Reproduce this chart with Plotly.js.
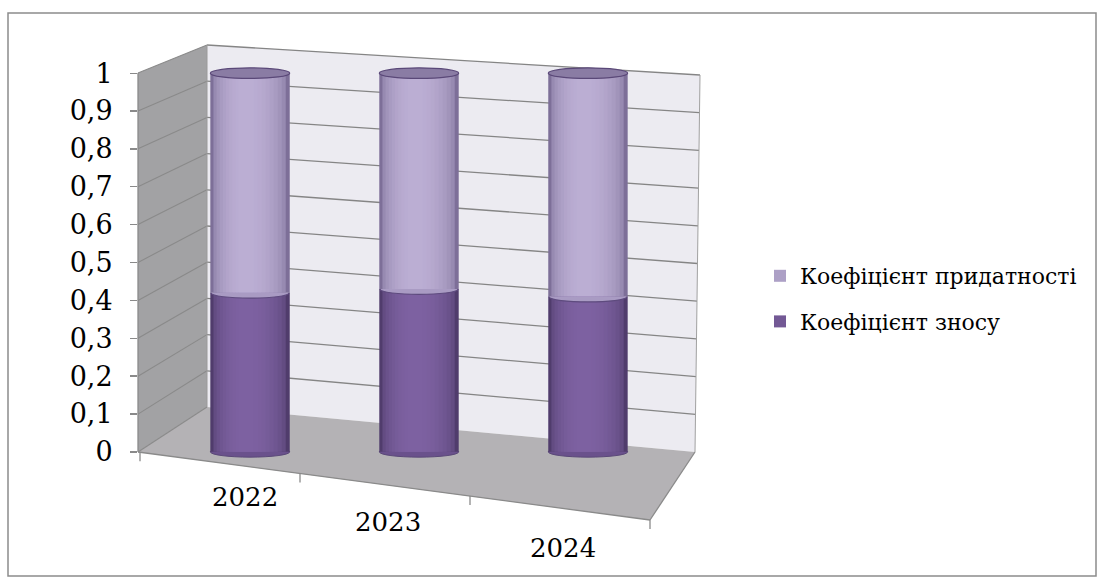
<!DOCTYPE html>
<html>
<head>
<meta charset="utf-8">
<script src="https://cdn.plot.ly/plotly-3.0.1.min.js"></script>
<style>
  html, body { margin: 0; padding: 0; background: #ffffff; }
  #chart { width: 1104px; height: 582px; }
</style>
</head>
<body>
<div id="chart"></div>
<script>
// ---- data ----
const categories = ['2022', '2023', '2024'];
const wearValues = [0.42, 0.43, 0.41];          // Коефіцієнт зносу
const fitValues = [0.58, 0.57, 0.59];           // Коефіцієнт придатності
const seriesNames = ['Коефіцієнт зносу', 'Коефіцієнт придатності'];
const yTickVals = [0, 0.1, 0.2, 0.3, 0.4, 0.5, 0.6, 0.7, 0.8, 0.9, 1];
const yTickText = ['0', '0,1', '0,2', '0,3', '0,4', '0,5', '0,6', '0,7', '0,8', '0,9', '1'];

// ---- styling / geometry (pixels of the 1104x582 page) ----
const W = 1104, H = 582;
const M = { l: 138, r: 404, t: 58, b: 115 };
const PW = W - M.l - M.r, PH = H - M.t - M.b;
const px = x => (x - M.l) / PW;           // page px -> paper x
const py = y => (H - M.b - y) / PH;       // page px -> paper y
const FONT = 'DejaVu Serif';
const capColor = '#8A7CA4';
const edgeColor = '#5A4878';
const gridColor = '#858585';

const barWidth = 0.47;
const capHalf = 0.014;

// cylinder shading (style only): colours from edge to centre
const fitEdge = [125, 111, 152], fitCenter = [188, 175, 212];
const wearEdge = [80, 60, 108], wearCenter = [126, 98, 162];
function mix(a, b, t) {
  return 'rgb(' + a.map((v, j) => Math.round(v + (b[j] - v) * t)).join(',') + ')';
}
const shadeLayers = [];
for (let k = 0; k < 10; k++) {
  const w = 1 - k * 0.09;
  const t = Math.sqrt(Math.max(0, 1 - w * w));
  shadeLayers.push({ w: w, s: -0.06 * (1 - w), fit: mix(fitEdge, fitCenter, t),
    wear: mix(wearEdge, wearCenter, t), legend: k === 4 });
}

// 3D frame corners (page px)
const backWall = [[207, 45], [700, 75], [695, 452], [207, 407]];
const leftWall = [[138, 73], [207, 45], [207, 407], [138, 452]];
const floor = [[138, 452], [207, 407], [695, 452], [650, 520]];
const catLabelPos = [[245, 497], [388, 522], [563, 548]];
const floorTickX = [140, 300, 470, 650];

function poly(pts) {
  return 'M ' + pts.map(p => px(p[0]).toFixed(5) + ',' + py(p[1]).toFixed(5)).join(' L ') + ' Z';
}
function pline(x0, y0, x1, y1, color, width) {
  return { type: 'line', xref: 'paper', yref: 'paper', layer: 'below',
    x0: px(x0), y0: py(y0), x1: px(x1), y1: py(y1),
    line: { color: color, width: width || 1.2 } };
}

const shapes = [];
shapes.push({ type: 'path', xref: 'paper', yref: 'paper', layer: 'below', path: poly(backWall),
  fillcolor: '#ECEBF1', line: { width: 0 } });
shapes.push({ type: 'path', xref: 'paper', yref: 'paper', layer: 'below', path: poly(leftWall),
  fillcolor: '#A2A2A4', line: { width: 0 } });
shapes.push({ type: 'path', xref: 'paper', yref: 'paper', layer: 'below', path: poly(floor),
  fillcolor: '#B4B2B5', line: { width: 0 } });

yTickVals.forEach(v => {
  const yl = backWall[3][1] + (backWall[0][1] - backWall[3][1]) * v;
  const yr = backWall[2][1] + (backWall[1][1] - backWall[2][1]) * v;
  const yf = leftWall[3][1] + (leftWall[0][1] - leftWall[3][1]) * v;
  if (v > 0) shapes.push(pline(207, yl, 700 - 5 * (1 - v), yr, gridColor, 1.3));
  shapes.push(pline(138, yf, 207, yl, '#8A8A8A', 1.1));
});
shapes.push(pline(207, 45, 207, 407, '#9A9A9A', 1));
shapes.push(pline(700, 75, 695, 452, '#A0A0A0', 1));
shapes.push(pline(138, 73, 138, 452, '#8A8A8A', 1.3));
shapes.push(pline(138, 452, 650, 520, '#8A8A8A', 1.3));
shapes.push(pline(650, 520, 695, 452, '#8A8A8A', 1.3));
floorTickX.forEach(x => {
  const y = 452 + (520 - 452) * (x - 138) / (650 - 138);
  shapes.push(pline(x, y, x, y + 9, '#8A8A8A', 1.3));
});
shapes.push({ type: 'rect', xref: 'paper', yref: 'paper', layer: 'below',
  x0: px(8), x1: px(1096), y0: py(13), y1: py(576),
  line: { color: '#8C8C8C', width: 1.5 }, fillcolor: 'rgba(0,0,0,0)' });

// cylinder caps derived from the data
categories.forEach((c, i) => {
  const total = wearValues[i] + fitValues[i];
  const x0 = i - barWidth / 2, x1 = i + barWidth / 2;
  shapes.push({ type: 'circle', xref: 'x', yref: 'y', layer: 'below',
    x0: x0, x1: x1, y0: -capHalf, y1: capHalf,
    fillcolor: '#6A518C', line: { color: edgeColor, width: 1 } });
  const v = wearValues[i], d = capHalf * 4 / 3;
  shapes.push({ type: 'path', xref: 'x', yref: 'y', layer: 'above',
    path: `M ${x0 + 0.004},${v} C ${x0 + 0.004},${v - d} ${x1 - 0.004},${v - d} ${x1 - 0.004},${v}`,
    fillcolor: '#A99BC3', line: { color: '#5E4B7E', width: 1.2 } });
  shapes.push({ type: 'circle', xref: 'x', yref: 'y', layer: 'above',
    x0: x0, x1: x1, y0: total - capHalf, y1: total + capHalf,
    fillcolor: capColor, line: { color: edgeColor, width: 1.2 } });
});

const annotations = categories.map((c, i) => ({
  text: c, xref: 'paper', yref: 'paper',
  x: px(catLabelPos[i][0]), y: py(catLabelPos[i][1]),
  xanchor: 'center', yanchor: 'middle', showarrow: false,
  font: { family: FONT, size: 26, color: '#000000' }
}));

const traces = [];
shadeLayers.forEach(s => {
  const w = barWidth * s.w;
  const off = -w / 2 + s.s * barWidth;
  traces.push({ type: 'bar', name: seriesNames[0], x: categories, y: wearValues,
    base: categories.map(() => 0), width: w, offset: off,
    marker: { color: s.wear, line: { width: 0 } },
    showlegend: s.legend, legendgroup: 'a', legendrank: 2, hoverinfo: 'skip' });
  traces.push({ type: 'bar', name: seriesNames[1], x: categories, y: fitValues,
    base: wearValues, width: w, offset: off,
    marker: { color: s.fit, line: { width: 0 } },
    showlegend: s.legend, legendgroup: 'b', legendrank: 1, hoverinfo: 'skip' });
});

const layout = {
  width: W, height: H,
  font: { family: FONT },
  margin: { l: M.l, r: M.r, t: M.t, b: M.b, pad: 0, autoexpand: false },
  paper_bgcolor: '#ffffff', plot_bgcolor: 'rgba(0,0,0,0)',
  barmode: 'overlay',
  showlegend: true,
  legend: {
    x: px(760), y: py(255), xanchor: 'left', yanchor: 'top',
    traceorder: 'grouped', tracegroupgap: 14,
    font: { family: FONT, size: 22, color: '#000000' },
    bgcolor: 'rgba(0,0,0,0)', itemwidth: 30
  },
  xaxis: {
    type: 'category', range: [-0.663, 2.663], showticklabels: false,
    showgrid: false, zeroline: false, showline: false, ticks: '', fixedrange: true
  },
  yaxis: {
    range: [-0.04, 1.04], tickvals: yTickVals, ticktext: yTickText,
    showgrid: false, zeroline: false, showline: false,
    ticks: 'outside', ticklen: 7, tickcolor: '#8A8A8A', tickwidth: 1.3,
    ticklabelstandoff: 12,
    tickfont: { family: FONT, size: 27, color: '#000000' }, fixedrange: true
  },
  shapes: shapes,
  annotations: annotations
};

Plotly.newPlot('chart', traces, layout, { displayModeBar: false, staticPlot: true });
</script>
</body>
</html>
